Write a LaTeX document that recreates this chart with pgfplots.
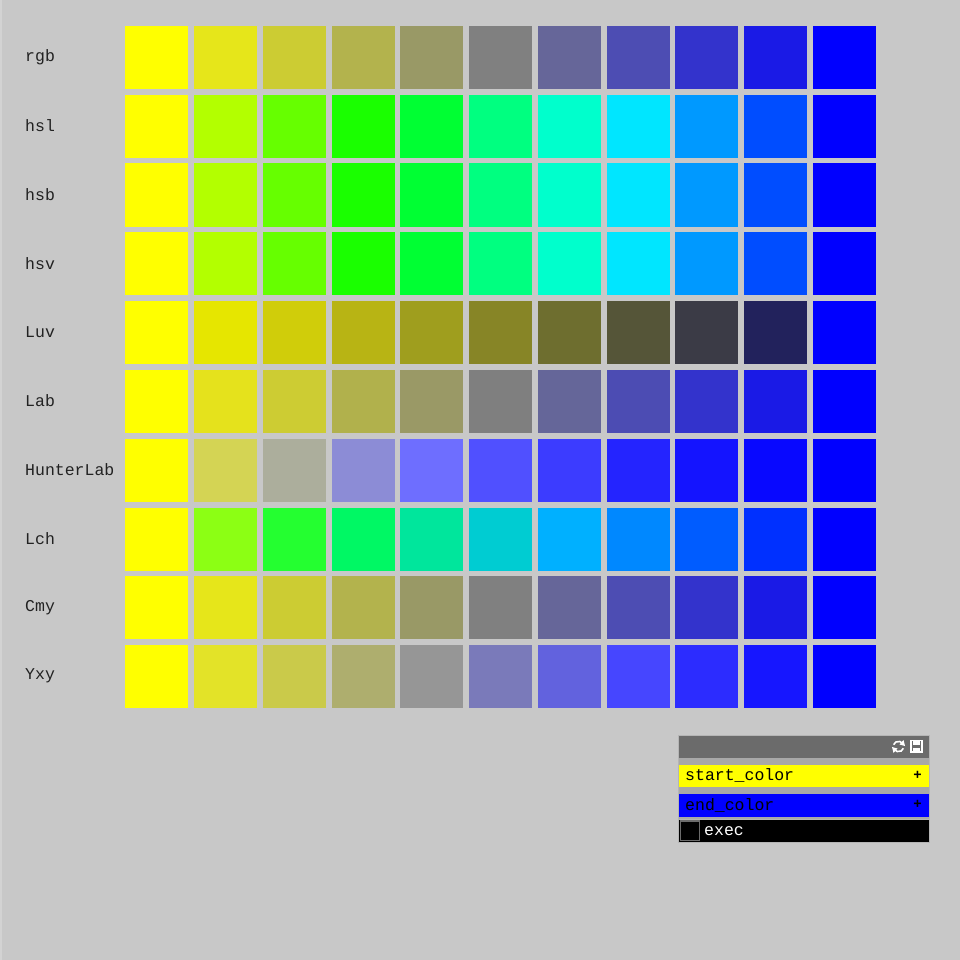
\documentclass[border=0pt]{standalone}
\usepackage{fontspec}
\setmonofont{Liberation Mono}
\usepackage{pgfplots}
\pgfplotsset{compat=1.18}
\usepackage{pgfplotstable}

\definecolor{bg}{HTML}{C8C8C8}
\definecolor{hdr}{HTML}{6B6B6B}
\definecolor{band}{HTML}{A8A8A8}
\definecolor{lbl}{HTML}{222222}
\definecolor{startc}{HTML}{FFFF00}
\definecolor{endc}{HTML}{0000FF}

% one table per colour space: step, R, G, B
\pgfplotstableread{
i R G B
0 255 255 0
1 230 230 26
2 204 204 51
3 179 179 77
4 153 153 102
5 128 128 128
6 102 102 153
7 77 77 179
8 51 51 204
9 26 26 230
10 0 0 255
}\rgbrow
\pgfplotstableread{
i R G B
0 255 255 0
1 179 255 0
2 102 255 0
3 26 255 0
4 0 255 51
5 0 255 128
6 0 255 204
7 0 230 255
8 0 153 255
9 0 77 255
10 0 0 255
}\hslrow
\pgfplotstableread{
i R G B
0 255 255 0
1 230 230 0
2 208 205 10
3 184 180 20
4 159 158 30
5 135 133 38
6 110 110 47
7 85 85 56
8 59 59 70
9 34 34 92
10 0 0 255
}\luvrow
\pgfplotstableread{
i R G B
0 255 255 0
1 229 226 28
2 205 204 51
3 177 177 76
4 154 153 102
5 127 127 127
6 101 102 153
7 76 76 179
8 51 51 204
9 26 26 230
10 0 0 255
}\labrow
\pgfplotstableread{
i R G B
0 255 255 0
1 212 212 84
2 172 174 156
3 140 140 214
4 110 110 255
5 80 80 255
6 60 60 255
7 36 36 255
8 20 20 255
9 8 8 255
10 0 0 255
}\hunterrow
\pgfplotstableread{
i R G B
0 255 255 0
1 140 255 20
2 36 255 48
3 0 248 100
4 0 230 156
5 0 204 210
6 0 176 255
7 0 136 255
8 0 92 255
9 0 48 255
10 0 0 255
}\lchrow
\pgfplotstableread{
i R G B
0 255 255 0
1 227 227 40
2 202 202 74
3 174 174 110
4 150 150 150
5 122 122 186
6 98 98 222
7 70 70 255
8 44 44 255
9 22 22 255
10 0 0 255
}\yxyrow

\newcommand{\swatches}[2]{%
  \addplot[scatter, only marks, mark=square*, mark size=31pt,
    visualization depends on={\thisrow{R}/255 \as \cR},
    visualization depends on={\thisrow{G}/255 \as \cG},
    visualization depends on={\thisrow{B}/255 \as \cB},
    scatter/@pre marker code/.code={%
      \definecolor{mc}{rgb}{\cR,\cG,\cB}%
      \pgfsetfillcolor{mc}\pgfsetstrokecolor{mc}\pgfsetlinewidth{0.2pt}},
    scatter/@post marker code/.code={}]
    table[x expr={156.5+68.75*\thisrow{i}}, y expr={57+68.8*#2}] {#1};
}
\newcommand{\rowlabel}[2]{%
  \node[anchor=west, inner sep=0pt, text=lbl,
    font=\ttfamily\fontsize{16.5}{16.5}\selectfont]
    at (axis cs:25,{57+68.8*#1}) {#2};
}

\begin{document}
\begin{tikzpicture}
\begin{axis}[hide axis, scale only axis, x=1pt, y=-1pt,
    xmin=0, xmax=960, ymin=0, ymax=960, clip=false]
  \fill[bg] (axis cs:0,0) rectangle (axis cs:960,960);
  \fill[bg!80!white] (axis cs:0,0) rectangle (axis cs:1.5,960);

  \swatches{\rgbrow}{0}
  \swatches{\hslrow}{1}
  \swatches{\hslrow}{2}
  \swatches{\hslrow}{3}
  \swatches{\luvrow}{4}
  \swatches{\labrow}{5}
  \swatches{\hunterrow}{6}
  \swatches{\lchrow}{7}
  \swatches{\rgbrow}{8}
  \swatches{\yxyrow}{9}

  \rowlabel{0}{rgb}
  \rowlabel{1}{hsl}
  \rowlabel{2}{hsb}
  \rowlabel{3}{hsv}
  \rowlabel{4}{Luv}
  \rowlabel{5}{Lab}
  \rowlabel{6}{HunterLab}
  \rowlabel{7}{Lch}
  \rowlabel{8}{Cmy}
  \rowlabel{9}{Yxy}

  % control panel
  \fill[band!85!white] (axis cs:678,735) rectangle (axis cs:929.5,843);
  \fill[hdr] (axis cs:679,736) rectangle (axis cs:928.5,758);
  \fill[band] (axis cs:679,758) rectangle (axis cs:928.5,819);
  \fill[startc] (axis cs:679,765) rectangle (axis cs:928.5,787);
  \fill[endc] (axis cs:679,794) rectangle (axis cs:928.5,817);
  \fill[black] (axis cs:679,819.5) rectangle (axis cs:928.5,842);
  \draw[hdr, line width=1.2pt] (axis cs:680.5,821) rectangle (axis cs:699.5,840.5);
  \node[anchor=west, inner sep=0pt, font=\ttfamily\fontsize{16.5}{16.5}\selectfont]
    at (axis cs:685,775.5) {start\_color};
  \node[anchor=west, inner sep=0pt, font=\ttfamily\fontsize{16.5}{16.5}\selectfont]
    at (axis cs:685,805) {end\_color};
  \node[anchor=west, inner sep=0pt, text=white, font=\ttfamily\fontsize{16.5}{16.5}\selectfont]
    at (axis cs:704,831) {exec};
  \node[inner sep=0pt, font=\ttfamily\bfseries\fontsize{14}{14}\selectfont]
    at (axis cs:917.5,775) {+};
  \node[inner sep=0pt, font=\ttfamily\bfseries\fontsize{14}{14}\selectfont]
    at (axis cs:917.5,804.5) {+};
  % refresh icon
  \draw[white, line width=1.6pt] (axis cs:898.5,746.5) ++(30:5.2pt) arc (30:160:5.2pt);
  \draw[white, line width=1.6pt] (axis cs:898.5,746.5) ++(210:5.2pt) arc (210:340:5.2pt);
  \fill[white] (axis cs:903.5,740) -- (axis cs:905,746) -- (axis cs:899.5,744.5) -- cycle;
  \fill[white] (axis cs:893.5,753) -- (axis cs:892,747) -- (axis cs:897.5,748.5) -- cycle;
  % save icon
  \draw[white, line width=1.3pt] (axis cs:911,740.5) rectangle (axis cs:922,752);
  \fill[white] (axis cs:913,740.5) rectangle (axis cs:920,745);
  \fill[white] (axis cs:913,747.5) rectangle (axis cs:920,752);
\end{axis}
\end{tikzpicture}
\end{document}
